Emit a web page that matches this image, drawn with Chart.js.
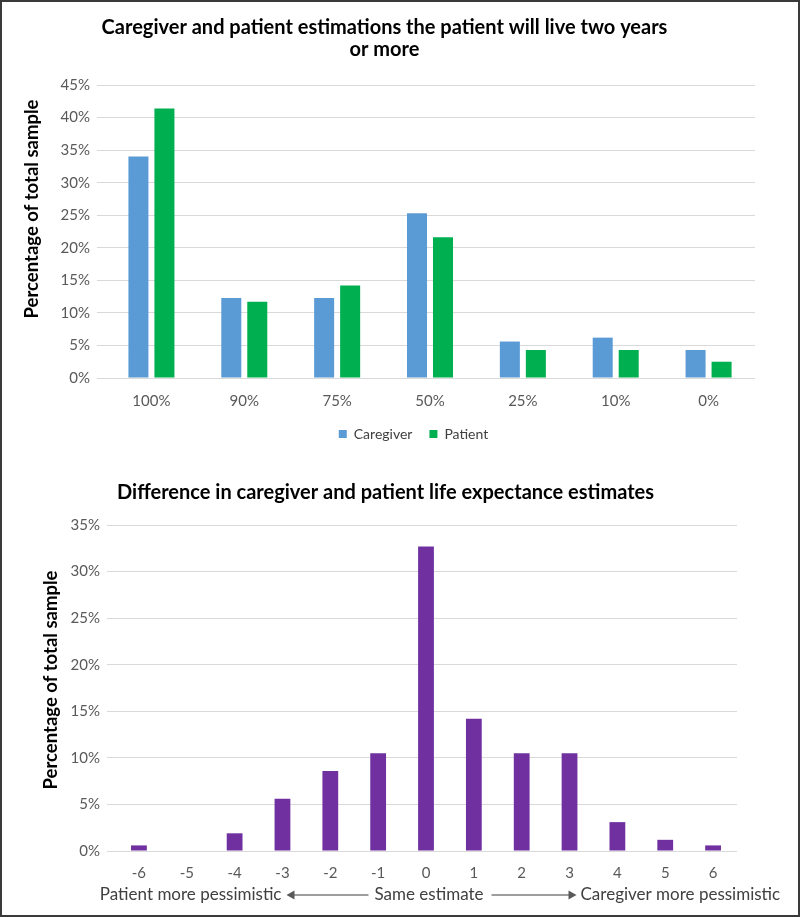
<!DOCTYPE html>
<html>
<head>
<meta charset="utf-8">
<script src="https://cdn.jsdelivr.net/npm/chart.js@4"></script>
<style>
html, body { margin: 0; padding: 0; background: #fff; }
#wrap { position: relative; width: 800px; height: 917px; }
#graficoTopo { position: absolute; left: 0; top: 0; }
#graficoBaixo { position: absolute; left: 0; top: 455px; }
#frame { position: absolute; left: 0; top: 0; width: 800px; height: 917px; box-sizing: border-box; border: 2px solid #3a3a3a; pointer-events: none; }
</style>
</head>
<body>
<div id="wrap">
  <canvas id="graficoTopo" width="800" height="455"></canvas>
  <canvas id="graficoBaixo" width="800" height="462"></canvas>
  <div id="frame"></div>
</div>
<script>
// dados
const optionLabels = ['100%', '90%', '75%', '50%', '25%', '10%', '0%'];
const caregiverPct = [34.0, 12.3, 12.3, 25.3, 5.6, 6.2, 4.3];
const patientPct = [41.4, 11.7, 14.2, 21.6, 4.3, 4.3, 2.5];

const diffLabels = ['-6', '-5', '-4', '-3', '-2', '-1', '0', '1', '2', '3', '4', '5', '6'];
const diffPct = [0.6, 0, 1.9, 5.6, 8.6, 10.5, 32.7, 14.2, 10.5, 10.5, 3.1, 1.2, 0.6];

const topTicks = { min: 0, max: 45, step: 5 };
const bottomTicks = { min: 0, max: 35, step: 5 };

const FONT = 'Lato, "Open Sans", sans-serif';
Chart.defaults.font.family = FONT;
Chart.defaults.color = '#595959';

const pct = v => v + '%';

// legenda um pouco à direita e mais acima, como no original
const moveLegenda = {
  id: 'moveLegenda',
  afterLayout(chart) {
    const lg = chart.legend;
    if (lg) { lg.left += 29; lg.right += 29; lg.top -= 6; lg.bottom -= 6; }
  }
};

// título do eixo y (no original ele não fica centrado na área do gráfico)
const tituloY = {
  id: 'tituloY',
  afterDraw(chart, args, opts) {
    const ctx = chart.ctx;
    ctx.save();
    ctx.translate(opts.x, opts.y);
    ctx.rotate(-Math.PI / 2);
    ctx.font = 'bold 18.5px ' + FONT;
    ctx.fillStyle = '#000';
    ctx.textAlign = 'center';
    ctx.textBaseline = 'middle';
    ctx.fillText('Percentage of total sample', 0, 0);
    ctx.restore();
  }
};

// 1. estimativas de sobrevida
new Chart(document.getElementById('graficoTopo'), {
  type: 'bar',
  data: {
    labels: optionLabels,
    datasets: [
      { label: 'Caregiver', data: caregiverPct, backgroundColor: '#5b9bd5',
        categoryPercentage: 0.56, barPercentage: 0.77 },
      { label: 'Patient', data: patientPct, backgroundColor: '#00b050',
        categoryPercentage: 0.56, barPercentage: 0.77 }
    ]
  },
  options: {
    responsive: false,
    animation: false,
    layout: { padding: { left: 14, right: 45, top: 6, bottom: 0 } },
    plugins: {
      title: {
        display: true,
        text: ['Caregiver and patient estimations the patient will live two years', 'or more'],
        color: '#000',
        font: { size: 20, weight: 'bold', lineHeight: 1.1 },
        padding: { top: 11, bottom: 24 }
      },
      legend: {
        position: 'bottom',
        maxHeight: 39,
        labels: { boxWidth: 8, boxHeight: 8, color: '#404040', font: { size: 14 }, padding: 17 }
      },
      tooltip: { enabled: false },
      tituloY: { x: 32, y: 209 }
    },
    scales: {
      x: {
        grid: { display: false },
        border: { display: false },
        ticks: { color: '#595959', font: { size: 15 }, padding: 6 }
      },
      y: {
        min: topTicks.min, max: topTicks.max,
        ticks: { stepSize: topTicks.step, callback: pct, color: '#595959', font: { size: 15 }, padding: 7 },
        grid: { color: '#d9d9d9' },
        border: { display: false },
        afterFit: s => { s.width = 91; }
      }
    }
  },
  plugins: [moveLegenda, tituloY]
});

// setas e legenda do eixo x
const setas = {
  id: 'setas',
  afterDraw(chart) {
    const ctx = chart.ctx;
    const y = 440;
    const cx = (chart.chartArea.left + chart.chartArea.right) / 2 + 3;
    ctx.save();
    ctx.font = '17px ' + FONT;
    ctx.fillStyle = '#404040';
    ctx.textBaseline = 'middle';
    const mid = 'Same estimate';
    const wMid = ctx.measureText(mid).width;
    ctx.textAlign = 'center';
    ctx.fillText(mid, cx, y);
    const l1 = cx - wMid / 2 - 6, l0 = l1 - 82;
    const r0 = cx + wMid / 2 + 8, r1 = r0 + 85;
    ctx.textAlign = 'right';
    ctx.fillText('Patient more pessimistic', l0 - 5, y);
    ctx.textAlign = 'left';
    ctx.fillText('Caregiver more pessimistic', r1 + 4, y);
    ctx.strokeStyle = '#7f7f7f';
    ctx.fillStyle = '#595959';
    ctx.lineWidth = 1.5;
    ctx.beginPath();
    ctx.moveTo(l0 + 6, y); ctx.lineTo(l1, y);
    ctx.moveTo(r0, y); ctx.lineTo(r1 - 6, y);
    ctx.stroke();
    ctx.beginPath();
    ctx.moveTo(l0, y); ctx.lineTo(l0 + 8, y - 4.5); ctx.lineTo(l0 + 8, y + 4.5); ctx.closePath();
    ctx.moveTo(r1, y); ctx.lineTo(r1 - 8, y - 4.5); ctx.lineTo(r1 - 8, y + 4.5); ctx.closePath();
    ctx.fill();
    ctx.restore();
  }
};

// 2. diferença entre as estimativas
new Chart(document.getElementById('graficoBaixo'), {
  type: 'bar',
  data: {
    labels: diffLabels,
    datasets: [{
      label: 'Difference',
      data: diffPct,
      backgroundColor: '#7030a0',
      categoryPercentage: 0.66, barPercentage: 0.5
    }]
  },
  options: {
    responsive: false,
    animation: false,
    layout: { padding: { left: 34, right: 63, top: 6, bottom: 30 } },
    plugins: {
      title: {
        display: true,
        text: 'Difference in caregiver and patient life expectance estimates',
        color: '#000',
        font: { size: 20, weight: 'bold' },
        padding: { top: 20, bottom: 20 }
      },
      legend: { display: false },
      tooltip: { enabled: false },
      tituloY: { x: 51, y: 225 }
    },
    scales: {
      x: {
        grid: { display: false },
        border: { display: false },
        ticks: { color: '#595959', font: { size: 15 }, padding: 5 }
      },
      y: {
        min: bottomTicks.min, max: bottomTicks.max,
        ticks: { stepSize: bottomTicks.step, callback: pct, color: '#595959', font: { size: 15 }, padding: 7 },
        grid: { color: '#d9d9d9' },
        border: { display: false },
        afterFit: s => { s.width = 81; }
      }
    }
  },
  plugins: [setas, tituloY]
});
</script>
</body>
</html>
